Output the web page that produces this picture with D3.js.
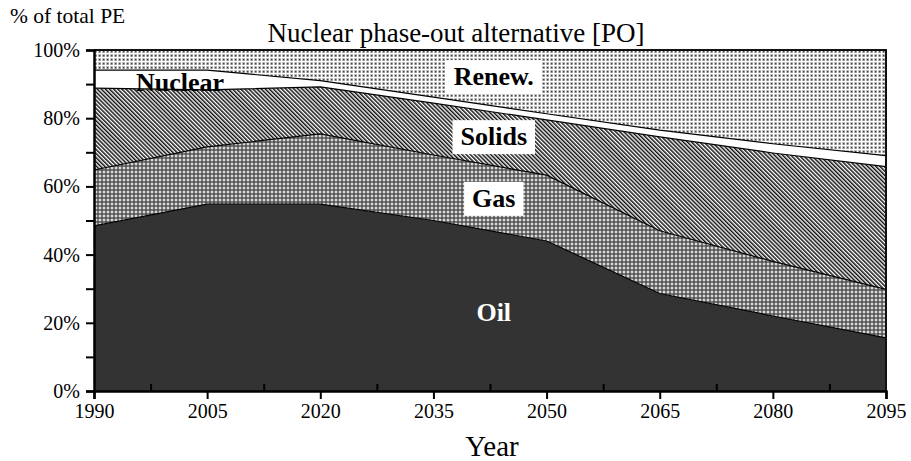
<!DOCTYPE html>
<html>
<head>
<meta charset="utf-8">
<script src="https://cdnjs.cloudflare.com/ajax/libs/d3/7.8.5/d3.min.js"></script>
<style>
  body { margin: 0; background: #fff; }
  svg text { font-family: "Liberation Serif", "Times New Roman", serif; }
</style>
</head>
<body>
<div id="chart"></div>
<script>
// years and shares of total primary energy (%)
var years = [1990, 2005, 2020, 2035, 2050, 2065, 2080, 2095];
var oil     = [48.4, 54.8, 54.8, 50.0, 44.0, 28.6, 22.0, 15.6];
var gas     = [16.4, 16.8, 20.6, 19.2, 19.3, 18.4, 16.0, 14.2];
var solids  = [24.0, 16.7, 13.8, 15.2, 16.2, 27.5, 31.8, 36.0];
var nuclear = [5.3, 5.8, 1.8, 1.8, 1.8, 2.0, 2.7, 3.2];
var renew   = [5.9, 5.9, 9.0, 13.8, 18.7, 23.5, 27.5, 31.0];

var seriesKeys = ["oil", "gas", "solids", "nuclear", "renew"];
var yTicks = [0, 20, 40, 60, 80, 100];
var xTicks = [1990, 2005, 2020, 2035, 2050, 2065, 2080, 2095];

var width = 911, height = 461;
var margin = {top: 50, right: 25, bottom: 70, left: 94};
var innerW = width - margin.left - margin.right;
var innerH = height - margin.top - margin.bottom;

var table = years.map(function(y, i) {
    return {year: y, oil: oil[i], gas: gas[i], solids: solids[i], nuclear: nuclear[i], renew: renew[i]};
});
var stacked = d3.stack().keys(seriesKeys)(table);

var x = d3.scaleLinear().domain([1990, 2095]).range([0, innerW]);
var y = d3.scaleLinear().domain([0, 100]).range([innerH, 0]);

var svg = d3.select("#chart").append("svg")
    .attr("width", width)
    .attr("height", height);

// fill patterns
var defs = svg.append("defs");

var pRenew = defs.append("pattern").attr("id", "p-renew")
    .attr("width", 4).attr("height", 4).attr("patternUnits", "userSpaceOnUse");
pRenew.append("rect").attr("width", 4).attr("height", 4).attr("fill", "#fff");
pRenew.append("rect").attr("width", 3).attr("height", 3).attr("fill", "#bdbdbd");
pRenew.append("rect").attr("x", 1).attr("y", 1).attr("width", 1.4).attr("height", 1.4).attr("fill", "#444");

var pSolids = defs.append("pattern").attr("id", "p-solids")
    .attr("width", 2.9).attr("height", 6).attr("patternUnits", "userSpaceOnUse")
    .attr("patternTransform", "rotate(-45)");
pSolids.append("rect").attr("width", 2.9).attr("height", 6).attr("fill", "#fff");
pSolids.append("rect").attr("width", 1.5).attr("height", 6).attr("fill", "#111");

var pGas = defs.append("pattern").attr("id", "p-gas")
    .attr("width", 4).attr("height", 4).attr("patternUnits", "userSpaceOnUse");
pGas.append("rect").attr("width", 4).attr("height", 4).attr("fill", "#555");
pGas.append("rect").attr("x", 1).attr("y", 1).attr("width", 2).attr("height", 2).attr("fill", "#b0b0b0");
pGas.append("rect").attr("x", 1.5).attr("y", 0.5).attr("width", 1).attr("height", 3).attr("fill", "#e8e8e8");
pGas.append("rect").attr("x", 0.5).attr("y", 1.5).attr("width", 3).attr("height", 1).attr("fill", "#e8e8e8");

var fills = {oil: "#333333", gas: "url(#p-gas)", solids: "url(#p-solids)", nuclear: "#ffffff", renew: "url(#p-renew)"};

var g = svg.append("g")
    .attr("transform", "translate(" + margin.left + "," + margin.top + ")");

var area = d3.area()
    .x(function(d) { return x(d.data.year); })
    .y0(function(d) { return y(d[0]); })
    .y1(function(d) { return y(d[1]); });

g.selectAll(".layer")
    .data(stacked)
    .enter().append("path")
    .attr("class", "layer")
    .attr("d", area)
    .attr("fill", function(d) { return fills[d.key]; });

// boundary lines between layers
var line = d3.line()
    .x(function(d) { return x(d.data.year); })
    .y(function(d) { return y(d[1]); });

g.selectAll(".edge")
    .data(stacked.slice(0, 4))
    .enter().append("path")
    .attr("class", "edge")
    .attr("d", line)
    .attr("fill", "none")
    .attr("stroke", "#000")
    .attr("stroke-width", 1.2);

// frame top/right
g.append("path")
    .attr("d", "M0,0H" + innerW + "V" + innerH)
    .attr("fill", "none")
    .attr("stroke", "#111")
    .attr("stroke-width", 2);

// labels inside areas
var labels = [
    {text: "Renew.", year: 2043, val: 89.7, box: true, color: "#000"},
    {text: "Solids", year: 2043, val: 72.1, box: true, color: "#000"},
    {text: "Gas", year: 2043, val: 54.0, box: true, color: "#000"},
    {text: "Oil", year: 2043, val: 20.5, box: false, color: "#fff"},
    {text: "Nuclear", year: 2001.4, val: 88.0, box: false, color: "#000"}
];
labels.forEach(function(l) {
    var t = g.append("text")
        .attr("x", x(l.year))
        .attr("y", y(l.val))
        .attr("text-anchor", "middle")
        .attr("font-size", 26)
        .attr("font-weight", "bold")
        .attr("fill", l.color)
        .text(l.text);
    if (l.box) {
        var bb = t.node().getBBox();
        g.insert("rect", "text")
            .attr("x", bb.x - 8)
            .attr("y", bb.y - 2)
            .attr("width", bb.width + 16)
            .attr("height", bb.height + 5)
            .attr("fill", "#fff");
    }
});

// axes
var xAxis = d3.axisBottom(x).tickValues(xTicks).tickFormat(d3.format("d")).tickSize(8).tickPadding(5);
var xMinor = d3.axisTop(x).tickValues(d3.range(1997.5, 2095, 15)).tickFormat("").tickSize(7);
var yAxis = d3.axisLeft(y).tickValues(yTicks).tickFormat(function(d) { return d + "%"; }).tickSize(8).tickPadding(6);
var yMinor = d3.axisLeft(y).tickValues(d3.range(10, 100, 20)).tickFormat("").tickSize(8);

function styleAxis(s) {
    s.select(".domain").attr("stroke", "#000").attr("stroke-width", 2.5);
    s.selectAll(".tick line").attr("stroke", "#000").attr("stroke-width", 2);
    s.selectAll(".tick text").attr("fill", "#000").style("font-size", "20px")
        .style("font-family", "'Liberation Serif', 'Times New Roman', serif");
}

g.append("g").attr("transform", "translate(0," + innerH + ")").call(xMinor)
    .call(function(s) { s.select(".domain").remove(); styleAxis(s); });
g.append("g").call(yMinor)
    .call(function(s) { s.select(".domain").remove(); styleAxis(s); });
g.append("g").attr("transform", "translate(0," + innerH + ")").call(xAxis).call(styleAxis);
g.append("g").call(yAxis).call(styleAxis);

// titles
svg.append("text")
    .attr("x", 456).attr("y", 42)
    .attr("text-anchor", "middle")
    .attr("font-size", 27)
    .text("Nuclear phase-out alternative [PO]");

svg.append("text")
    .attr("x", 10).attr("y", 23)
    .attr("font-size", 21.5)
    .text("% of total PE");

svg.append("text")
    .attr("x", 492).attr("y", 456)
    .attr("text-anchor", "middle")
    .attr("font-size", 29)
    .text("Year");
</script>
</body>
</html>
